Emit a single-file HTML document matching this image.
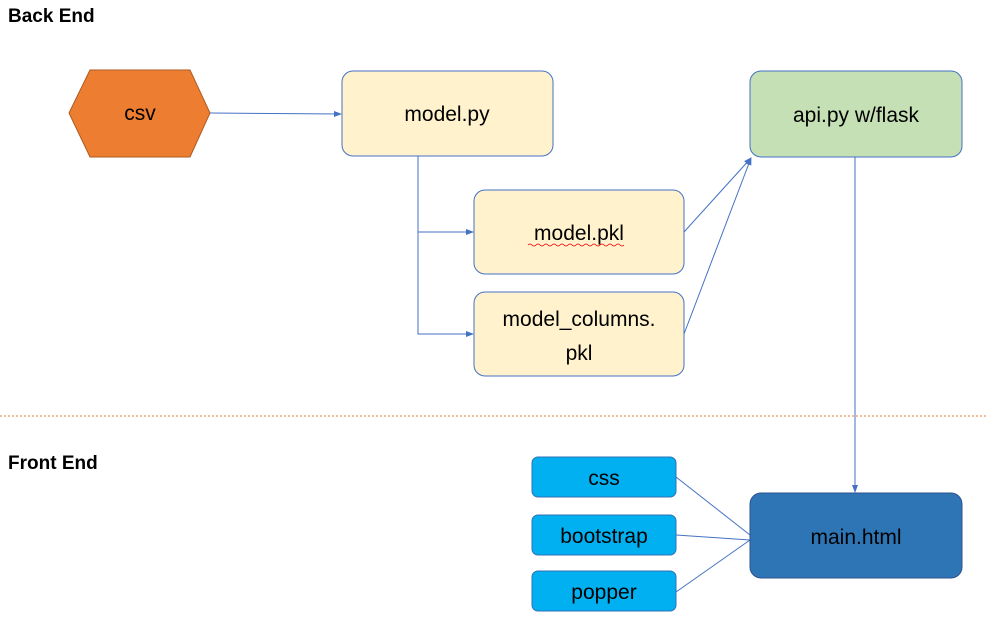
<!DOCTYPE html>
<html><head><meta charset="utf-8"><style>
html,body{margin:0;padding:0;background:#fff}
svg{display:block}
text{font-family:"Liberation Sans",sans-serif}
</style></head><body>
<svg width="988" height="628" viewBox="0 0 988 628" xmlns="http://www.w3.org/2000/svg">
<defs><marker id="a" markerWidth="8" markerHeight="8" refX="7" refY="4" orient="auto" markerUnits="userSpaceOnUse"><path d="M0,1 L8,4 L0,7 z" fill="#4472C4"/></marker></defs>
<text x="8" y="22" font-size="19" font-weight="bold">Back End</text>
<text x="8" y="469" font-size="19" font-weight="bold">Front End</text>
<line x1="0" y1="416" x2="988" y2="416" stroke="#ED7D31" stroke-width="1" stroke-dasharray="2,2"/>
<polygon points="69,113 90,70 190,70 210,113 190,157 90,157" fill="#ED7D31" stroke="#AE5A21"/>
<text x="140" y="120" font-size="21" text-anchor="middle">csv</text>
<g stroke="#4472C4" stroke-width="1" fill="none">
<line x1="210" y1="113" x2="341" y2="114" marker-end="url(#a)"/>
<polyline points="418,156 418,334 473,334" marker-end="url(#a)"/>
<line x1="418" y1="232" x2="473" y2="232" marker-end="url(#a)"/>
<line x1="684" y1="232" x2="751" y2="158" marker-end="url(#a)"/>
<line x1="684" y1="334" x2="751" y2="158" marker-end="url(#a)"/>
<line x1="855" y1="157" x2="855" y2="492" marker-end="url(#a)"/>
<line x1="676" y1="477" x2="750" y2="535"/>
<line x1="676" y1="535" x2="750" y2="540"/>
<line x1="676" y1="592" x2="750" y2="540"/>
</g>
<rect x="342" y="71" width="211" height="85" rx="11" fill="#FFF2CC" stroke="#4472C4"/>
<text x="447" y="121" font-size="21" text-anchor="middle">model.py</text>
<rect x="474" y="190" width="210" height="84" rx="11" fill="#FFF2CC" stroke="#4472C4"/>
<text x="579" y="240" font-size="21" text-anchor="middle">model.pkl</text>
<path d="M528,245 q2,-2 4,0 t4,0 t4,0 t4,0 t4,0 t4,0 t4,0 t4,0 t4,0 t4,0 t4,0 t4,0 t4,0 t4,0 t4,0 t4,0 t4,0 t4,0 t4,0 t4,0 t4,0 t4,0 t4,0 t4,0" stroke="#E00" stroke-width="0.8" fill="none"/>
<rect x="474" y="292" width="210" height="84" rx="11" fill="#FFF2CC" stroke="#4472C4"/>
<text x="579" y="326" font-size="21" text-anchor="middle">model_columns.</text>
<text x="579" y="360" font-size="21" text-anchor="middle">pkl</text>
<rect x="750" y="71" width="212" height="86" rx="11" fill="#C5E0B4" stroke="#4472C4"/>
<text x="856" y="122" font-size="21" text-anchor="middle">api.py w/flask</text>
<rect x="532" y="457" width="144" height="40" rx="6" fill="#00B0F0" stroke="#2F72B6"/>
<text x="604" y="485" font-size="21" text-anchor="middle">css</text>
<rect x="532" y="515" width="144" height="40" rx="6" fill="#00B0F0" stroke="#2F72B6"/>
<text x="604" y="543" font-size="21" text-anchor="middle">bootstrap</text>
<rect x="532" y="571" width="144" height="40" rx="6" fill="#00B0F0" stroke="#2F72B6"/>
<text x="604" y="599" font-size="21" text-anchor="middle">popper</text>
<rect x="750" y="493" width="212" height="85" rx="11" fill="#2E75B6" stroke="#2F528F"/>
<text x="856" y="544" font-size="21" text-anchor="middle" fill="#000">main.html</text>
</svg>
</body></html>
